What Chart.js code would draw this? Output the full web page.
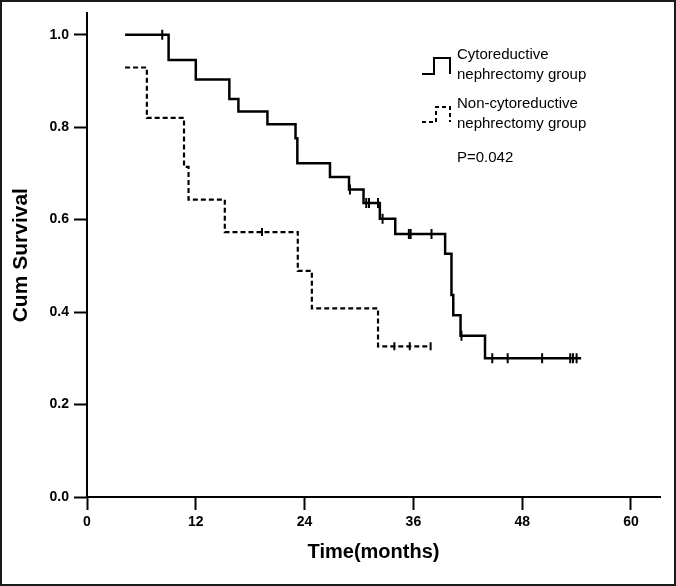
<!DOCTYPE html>
<html>
<head>
<meta charset="utf-8">
<script src="https://cdn.jsdelivr.net/npm/chart.js@4.4.1/dist/chart.umd.min.js"></script>
<style>
    html, body { margin: 0; padding: 0; background: #fff; }
    #wrap { width: 676px; height: 586px; position: relative; }
</style>
</head>
<body>
<div id="wrap"><canvas id="kmChart" width="676" height="586"></canvas></div>
<script>
// Kaplan-Meier data (months, cumulative survival after each step)
const cytoTimes = [4.2, 9.0, 12.0, 15.7, 16.7, 19.9, 23.0, 23.2, 26.8, 28.9, 30.5, 32.3, 34.0, 39.5, 40.2, 40.4, 41.2, 43.9, 54.5];
const cytoSurv = [1.0, 0.945, 0.903, 0.861, 0.834, 0.806, 0.776, 0.722, 0.692, 0.665, 0.636, 0.602, 0.569, 0.526, 0.437, 0.393, 0.349, 0.300, 0.300];
const cytoCensored = [8.3, 29.0, 30.8, 31.1, 32.1, 32.6, 35.5, 35.7, 38.0, 41.3, 44.7, 46.4, 50.2, 53.3, 53.6, 54.0];

const nonCytoTimes = [4.2, 6.6, 10.7, 11.2, 15.2, 23.25, 24.8, 32.1, 37.9];
const nonCytoSurv = [0.929, 0.820, 0.714, 0.643, 0.573, 0.489, 0.408, 0.326, 0.326];
const nonCytoCensored = [19.3, 33.9, 35.6, 37.9];

const xTicks = [0, 12, 24, 36, 48, 60];
const yTicks = [0.0, 0.2, 0.4, 0.6, 0.8, 1.0];

const cytoLabel = ['Cytoreductive', 'nephrectomy group'];
const nonCytoLabel = ['Non-cytoreductive', 'nephrectomy group'];
const pValueText = 'P=0.042';
const xTitle = 'Time(months)';
const yTitle = 'Cum Survival';

const FONT = '"Liberation Sans", Arial, Helvetica, sans-serif';

function toPoints(times, values) {
    return times.map((t, i) => ({ x: t, y: values[i] }));
}

// survival level of a step curve at time t (used to place censor marks on the curve)
function survivalAt(times, values, t) {
    let s = values[0];
    for (let i = 0; i < times.length; i++) {
        if (times[i] <= t) s = values[i];
    }
    return s;
}

function censorPoints(times, values, censored) {
    return censored.map(t => ({ x: t, y: survivalAt(times, values, t) }));
}

const frameAndLegend = {
    id: 'frameAndLegend',
    afterDraw(chart) {
        const ctx = chart.ctx;
        ctx.save();

        // outer frame
        ctx.strokeStyle = '#1a1a1a';
        ctx.lineWidth = 2;
        ctx.strokeRect(1, 1, chart.width - 2, chart.height - 2);

        // legend symbols
        ctx.strokeStyle = '#000';
        ctx.lineWidth = 2;
        ctx.beginPath();
        ctx.moveTo(422, 74);
        ctx.lineTo(434, 74);
        ctx.lineTo(434, 58);
        ctx.lineTo(450, 58);
        ctx.lineTo(450, 74);
        ctx.stroke();

        ctx.setLineDash([4, 3]);
        ctx.beginPath();
        ctx.moveTo(422, 122);
        ctx.lineTo(436, 122);
        ctx.lineTo(436, 107);
        ctx.lineTo(450, 107);
        ctx.lineTo(450, 122);
        ctx.stroke();
        ctx.setLineDash([]);

        // legend text
        ctx.fillStyle = '#000';
        ctx.font = '15px ' + FONT;
        ctx.textBaseline = 'middle';
        ctx.textAlign = 'left';
        cytoLabel.forEach((line, i) => ctx.fillText(line, 457, 55 + i * 20));
        nonCytoLabel.forEach((line, i) => ctx.fillText(line, 457, 104 + i * 20));
        ctx.fillText(pValueText, 457, 158);

        ctx.restore();
    }
};

const ctx = document.getElementById('kmChart');

new Chart(ctx, {
    type: 'line',
    data: {
        datasets: [
            {
                label: cytoLabel.join(' '),
                data: toPoints(cytoTimes, cytoSurv),
                stepped: true,
                borderColor: '#000',
                borderWidth: 2.5,
                pointRadius: 0,
                fill: false
            },
            {
                label: nonCytoLabel.join(' '),
                data: toPoints(nonCytoTimes, nonCytoSurv),
                stepped: true,
                borderColor: '#000',
                borderWidth: 2.2,
                borderDash: [5, 3],
                pointRadius: 0,
                fill: false
            },
            {
                label: 'censored',
                data: censorPoints(cytoTimes, cytoSurv, cytoCensored),
                showLine: false,
                pointStyle: 'line',
                pointRotation: 90,
                pointRadius: 5,
                pointBorderWidth: 2,
                pointBorderColor: '#000'
            },
            {
                label: 'censored',
                data: censorPoints(nonCytoTimes, nonCytoSurv, nonCytoCensored),
                showLine: false,
                pointStyle: 'line',
                pointRotation: 90,
                pointRadius: 4,
                pointBorderWidth: 2,
                pointBorderColor: '#000'
            }
        ]
    },
    options: {
        responsive: false,
        animation: false,
        layout: {
            padding: { top: 12, right: 16, left: 0, bottom: 0 }
        },
        plugins: {
            legend: { display: false },
            tooltip: { enabled: false }
        },
        scales: {
            x: {
                type: 'linear',
                min: 0,
                max: 63.2,
                afterFit: scale => { scale.height = 89; },
                afterBuildTicks: scale => { scale.ticks = xTicks.map(v => ({ value: v })); },
                ticks: {
                    color: '#000',
                    padding: 4,
                    font: { family: FONT, size: 14, weight: 'bold' }
                },
                grid: {
                    drawOnChartArea: false,
                    drawTicks: true,
                    tickLength: 13,
                    tickColor: '#000',
                    tickWidth: 2
                },
                border: { display: true, color: '#000', width: 2 },
                title: {
                    display: true,
                    text: xTitle,
                    color: '#000',
                    padding: { top: 0, bottom: 22 },
                    font: { family: FONT, size: 20, weight: 'bold' }
                }
            },
            y: {
                min: 0,
                max: 1.046,
                afterFit: scale => { scale.width = 87; },
                afterBuildTicks: scale => { scale.ticks = yTicks.map(v => ({ value: v })); },
                ticks: {
                    color: '#000',
                    padding: 5,
                    font: { family: FONT, size: 14, weight: 'bold' },
                    callback: v => v.toFixed(1)
                },
                grid: {
                    drawOnChartArea: false,
                    drawTicks: true,
                    tickLength: 13,
                    tickColor: '#000',
                    tickWidth: 2
                },
                border: { display: true, color: '#000', width: 2 },
                title: {
                    display: true,
                    text: yTitle,
                    color: '#000',
                    padding: { top: 9, bottom: 0 },
                    font: { family: FONT, size: 21, weight: 'bold' }
                }
            }
        }
    },
    plugins: [frameAndLegend]
});
</script>
</body>
</html>
